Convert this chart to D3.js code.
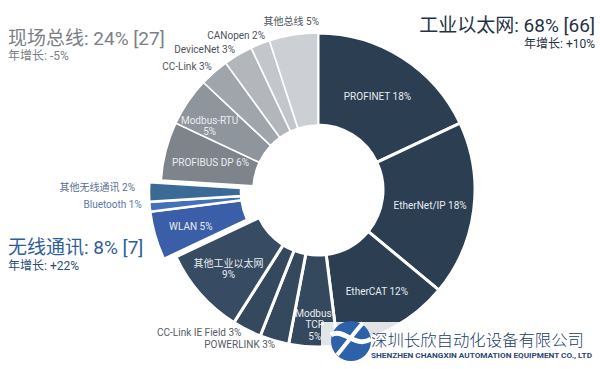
<!DOCTYPE html>
<html><head><meta charset="utf-8">
<script src="https://cdn.jsdelivr.net/npm/d3@7/dist/d3.min.js"></script>
<style>
html,body{margin:0;padding:0;background:#fff;}
svg{display:block;font-family:Roboto,"Noto Sans CJK SC",sans-serif;}
</style></head>
<body><svg id="c" width="600" height="369"></svg>
<script>
// ---------- data ----------
const categories = ["PROFINET","EtherNet/IP","EtherCAT","Modbus-TCP","POWERLINK","CC-Link IE Field","其他工业以太网","WLAN","Bluetooth","其他无线通讯","PROFIBUS DP","Modbus-RTU","CC-Link","DeviceNet","CANopen","其他总线"];
const shares = [18,18,12,5,3,3,9,5,1,2,6,5,3,3,2,5];
const groupOf = ["eth","eth","eth","eth","eth","eth","eth","wl","wl","wl","fb","fb","fb","fb","fb","fb"];
const groupKeys = ["eth","wl","fb"];
const groupNames = ["工业以太网","无线通讯","现场总线"];
const groupShares = [68,8,24];
const groupCounts = [66,7,27];
const groupGrowth = ["+10%","+22%","-5%"];

// ---------- style / layout ----------
const W=600,H=369,cx=318,cy=190,r0=65,r1=157;
const colors = {"PROFINET":"#2b3e52","EtherNet/IP":"#2b3e52","EtherCAT":"#2b3e52","Modbus-TCP":"#34485e","POWERLINK":"#34485e","CC-Link IE Field":"#34485e","其他工业以太网":"#374b62","WLAN":"#3b5ea9","Bluetooth":"#4470b8","其他无线通讯":"#3a6a95","PROFIBUS DP":"#7e848c","Modbus-RTU":"#8f959d","CC-Link":"#a0a5ac","DeviceNet":"#b3b7bc","CANopen":"#c3c6ca","其他总线":"#ccd0d4"};
const explode = {eth:[0,0],wl:[-12,2],fb:[0,0]};
const gapW = {eth:3,wl:2.5,fb:1.6};
const labelLines = {"Modbus-TCP":["Modbus-","TCP"],"Modbus-RTU":["Modbus-RTU"],"其他工业以太网":["其他工业以太网"]};
const layout = {
 "PROFINET":{r:111,dx:0,dy:0,a:"middle",inside:true},
 "EtherNet/IP":{r:111,dx:2,dy:2,a:"middle",inside:true},
 "EtherCAT":{r:116,dx:3,dy:0,a:"middle",inside:true},
 "Modbus-TCP":{r:135,dx:1,dy:0,a:"middle",inside:true},
 "POWERLINK":{r:161,dx:2,dy:0,a:"end",inside:false},
 "CC-Link IE Field":{r:160,dx:-4,dy:0,a:"end",inside:false},
 "其他工业以太网":{r:118,dx:-1,dy:1,a:"middle",inside:true},
 "WLAN":{r:120,dx:0,dy:1,a:"middle",inside:true},
 "Bluetooth":{r:165,dx:0,dy:-3,a:"end",inside:false},
 "其他无线通讯":{r:171,dx:0,dy:-4.5,a:"end",inside:false},
 "PROFIBUS DP":{r:111,dx:0,dy:0,a:"middle",inside:true},
 "Modbus-RTU":{r:125,dx:-5,dy:6,a:"middle",inside:true},
 "CC-Link":{r:165,dx:3,dy:0,a:"end",inside:false},
 "DeviceNet":{r:163,dx:0,dy:0,a:"end",inside:false},
 "CANopen":{r:167,dx:8.5,dy:1,a:"end",inside:false},
 "其他总线":{r:171,dx:0,dy:0,a:"middle",inside:false}
};
const outColor = {eth:"#555b63",wl:"#5a6f95",fb:"#4e545c"};
const outColorCat = {"Bluetooth":"#5a78ad"};

const svg = d3.select("#c");
const data = categories.map((c,i)=>({name:c,share:shares[i],group:groupOf[i]}));
const pie = d3.pie().sort(null).value(d=>d.share);
const arcs = pie(data);
const arc = d3.arc().innerRadius(r0).outerRadius(r1);

const g = svg.append("g").attr("transform",`translate(${cx},${cy})`);
const seg = g.selectAll("g.seg").data(arcs).join("g").attr("class","seg")
  .attr("transform",d=>`translate(${explode[d.data.group][0]},${explode[d.data.group][1]})`);
seg.append("path").attr("d",arc).attr("fill",d=>colors[d.data.name])
  .attr("stroke","#fff").attr("stroke-width",d=>gapW[d.data.group]).attr("stroke-linejoin","miter");

seg.each(function(d){
  const L = layout[d.data.name];
  const a = (d.startAngle+d.endAngle)/2;
  const x = L.r*Math.sin(a)+L.dx, y = -L.r*Math.cos(a)+L.dy;
  const lines = labelLines[d.data.name] ? labelLines[d.data.name].concat([d.data.share+"%"]) : [d.data.name+" "+d.data.share+"%"];
  const t = d3.select(this).append("text").attr("x",x).attr("y",y)
    .attr("text-anchor",L.a).attr("font-size",10)
    .attr("fill", L.inside ? "#e8ecf0" : (outColorCat[d.data.name]||outColor[d.data.group]));
  const n = lines.length, lh=11.5;
  lines.forEach((s,i)=>{
    t.append("tspan").attr("x",x).attr("y",y+(i-(n-1)/2)*lh+3.5).text(s);
  });
});

// ---------- group titles ----------
const titles = [
  {k:"fb",x:8,y:45,y2:60,a:"start",c:"#7b8087",c2:"#7b8087"},
  {k:"eth",x:595,y:32,y2:48,a:"end",c:"#1f3347",c2:"#1f3347"},
  {k:"wl",x:8,y:254,y2:270,a:"start",c:"#2d5e9e",c2:"#2b4c7a"}
];
titles.forEach(tt=>{
  const i = groupKeys.indexOf(tt.k);
  svg.append("text").attr("x",tt.x).attr("y",tt.y).attr("text-anchor",tt.a)
    .attr("font-size",19).attr("fill",tt.c)
    .text(`${groupNames[i]}: ${groupShares[i]}% [${groupCounts[i]}]`);
  svg.append("text").attr("x",tt.x).attr("y",tt.y2).attr("text-anchor",tt.a)
    .attr("font-size",12).attr("fill",tt.c2)
    .text(`年增长: ${groupGrowth[i]}`);
});

// ---------- watermark ----------
svg.append("rect").attr("x",321).attr("y",322).attr("width",W-321).attr("height",H-322)
  .attr("fill","#fff").attr("opacity",0.86);
const wm = svg.append("g").attr("transform","translate(351,341)");
wm.append("circle").attr("r",20).attr("fill","#2d62ab");
wm.append("path").attr("d","M-20,-6 C-8,-14 4,8 20,-2").attr("stroke","#fff").attr("stroke-width",5).attr("fill","none");
wm.append("path").attr("d","M-14,14 C-4,2 6,-12 12,-18").attr("stroke","#fff").attr("stroke-width",4).attr("fill","none");
svg.append("text").attr("x",371).attr("y",345.5).attr("font-size",15.5).attr("fill","#24406a")
  .attr("textLength",213).attr("lengthAdjust","spacingAndGlyphs").attr("font-weight",300)
  .attr("font-family","'Noto Sans CJK SC',sans-serif").text("深圳长欣自动化设备有限公司");
svg.append("text").attr("x",371).attr("y",358).attr("font-size",6.5).attr("fill","#2a4a75")
  .attr("font-weight",700).attr("textLength",221).attr("lengthAdjust","spacingAndGlyphs")
  .text("SHENZHEN CHANGXIN AUTOMATION EQUIPMENT CO., LTD");
</script></body></html>
